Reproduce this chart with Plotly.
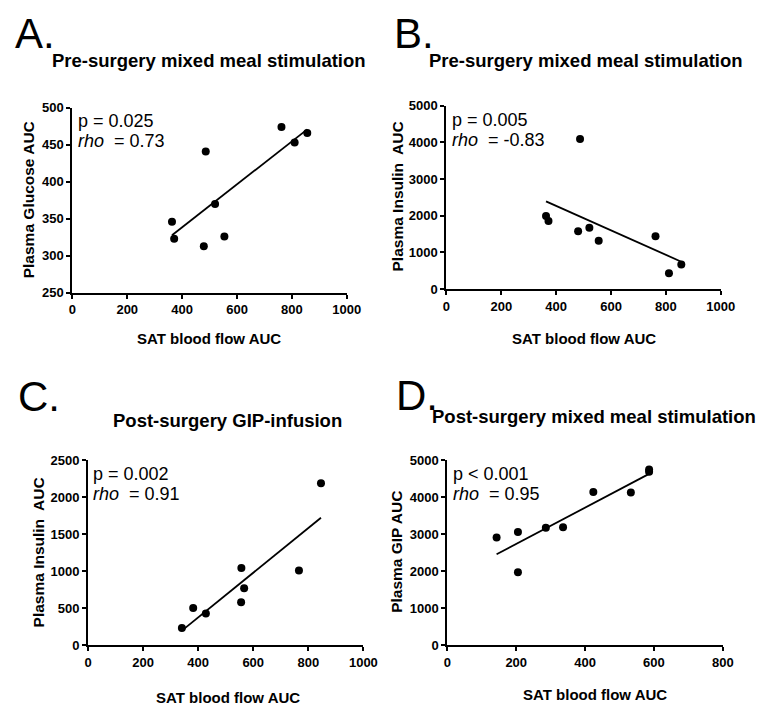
import numpy as np
import plotly.graph_objects as go

W, H = 769, 713
FONT = "Liberation Sans, Arial, sans-serif"

# ---------------- data ----------------
# Panel A: Pre-surgery mixed meal stimulation (glucose)
a_x = [363, 371, 479, 486, 520, 554, 762, 810, 856]
a_y = [346, 323, 313, 441, 370, 326, 474, 453, 466]
# Panel B: Pre-surgery mixed meal stimulation (insulin)
b_x = [363, 372, 480, 487, 521, 555, 762, 811, 856]
b_y = [1993, 1859, 1575, 4093, 1673, 1317, 1441, 427, 667]
# Panel C: Post-surgery GIP-infusion (insulin)
c_x = [341, 382, 428, 557, 567, 556, 766, 846]
c_y = [235, 504, 429, 1044, 770, 580, 1009, 2190]
# Panel D: Post-surgery mixed meal stimulation (GIP)
d_x = [143, 205, 205, 286, 336, 424, 533, 586, 586]
d_y = [2910, 3060, 1975, 3175, 3192, 4144, 4127, 4750, 4690]

titles = ["Pre-surgery mixed meal stimulation", "Pre-surgery mixed meal stimulation",
          "Post-surgery GIP-infusion", "Post-surgery mixed meal stimulation"]
letters = ["A.", "B.", "C.", "D."]
y_titles = ["Plasma Glucose AUC", "Plasma Insulin  AUC", "Plasma Insulin  AUC", "Plasma GIP AUC"]
x_title = "SAT blood flow AUC"
p_texts = ["p = 0.025", "p = 0.005", "p = 0.002", "p < 0.001"]
rho_texts = ["0.73", "-0.83", "0.91", "0.95"]

x_ranges = [[0, 1000], [0, 1000], [0, 1000], [0, 800]]
x_ticks = [[0, 200, 400, 600, 800, 1000]] * 3 + [[0, 200, 400, 600, 800]]
y_ranges = [[250, 500], [0, 5000], [0, 2500], [0, 5000]]
y_ticks = [[250, 300, 350, 400, 450, 500],
           [0, 1000, 2000, 3000, 4000, 5000],
           [0, 500, 1000, 1500, 2000, 2500],
           [0, 1000, 2000, 3000, 4000, 5000]]

# ---------------- layout geometry (pixels) ----------------
plot_boxes = [(70, 351, 103, 292), (453, 734, 101, 288),
              (86, 368, 463, 652), (454, 736, 463, 652)]
letter_pos = [(9, 27), (397, 27), (12, 398), (399, 397)]
title_pos = [(210, 55), (596, 55), (229, 422), (604, 418)]
p_pos = [(74, 116), (457, 115), (89, 477), (458, 477)]
rho_pos = [(74, 137), (457, 136), (89, 497), (458, 497)]
xt_pos = [(210, 339), (594, 339), (229, 705), (605, 702)]
yt_pos = [(25, 197), (403, 194), (35, 557), (402, 557)]


def px(x, y):
    return x / W, 1 - y / H


fig = go.Figure()
datasets = [(a_x, a_y), (b_x, b_y), (c_x, c_y), (d_x, d_y)]
layout_axes = {}
annotations = []

for i, (xs, ys) in enumerate(datasets):
    n = "" if i == 0 else str(i + 1)
    xa, ya = "x" + n, "y" + n
    xs_arr = np.array(xs, dtype=float)
    ys_arr = np.array(ys, dtype=float)
    slope, intercept = np.polyfit(xs_arr, ys_arr, 1)
    lx = np.array([xs_arr.min(), xs_arr.max()])
    fig.add_trace(go.Scatter(x=lx, y=slope * lx + intercept, mode="lines",
                             line=dict(color="black", width=1.8),
                             xaxis=xa, yaxis=ya, showlegend=False))
    fig.add_trace(go.Scatter(x=xs, y=ys, mode="markers",
                             marker=dict(color="black", size=8),
                             xaxis=xa, yaxis=ya, showlegend=False))
    x0, x1, y0, y1 = plot_boxes[i]
    common = dict(showline=True, linecolor="black", linewidth=2, ticks="outside",
                  ticklen=4, tickwidth=2, tickcolor="black", showgrid=False,
                  zeroline=False, tickmode="array",
                  tickfont=dict(family=FONT, size=13, color="black"))
    layout_axes["xaxis" + n] = dict(domain=[x0 / W, x1 / W], range=x_ranges[i],
                                    tickvals=x_ticks[i],
                                    ticktext=[f"<b>{v}</b>" for v in x_ticks[i]],
                                    anchor=ya, **common)
    layout_axes["yaxis" + n] = dict(domain=[1 - y1 / H, 1 - y0 / H], range=y_ranges[i],
                                    tickvals=y_ticks[i],
                                    ticktext=[f"<b>{v}</b>" for v in y_ticks[i]],
                                    anchor=xa, **common)

    def ann(text, pos, size, xanchor="left", bold=False, angle=0):
        x, y = px(*pos)
        annotations.append(dict(text=f"<b>{text}</b>" if bold else text,
                                x=x, y=y, xref="paper", yref="paper",
                                xanchor=xanchor, yanchor="middle", showarrow=False,
                                textangle=angle,
                                font=dict(family=FONT, size=size, color="black")))

    ann(letters[i], letter_pos[i], 42)
    ann(titles[i], title_pos[i], 18.5, xanchor="center", bold=True)
    ann(p_texts[i], p_pos[i], 18)
    ann("<i>rho</i>  = " + rho_texts[i], rho_pos[i], 18)
    ann(x_title, xt_pos[i], 15, xanchor="center", bold=True)
    ann(y_titles[i], yt_pos[i], 15.5, xanchor="center", bold=True, angle=-90)

fig.update_layout(width=W, height=H, margin=dict(l=0, r=0, t=0, b=0),
                  paper_bgcolor="white", plot_bgcolor="white",
                  annotations=annotations, **layout_axes)

fig.write_html("out.html", config={"displayModeBar": False},
               post_script="document.body.style.margin='0';document.body.style.overflow='hidden';")
